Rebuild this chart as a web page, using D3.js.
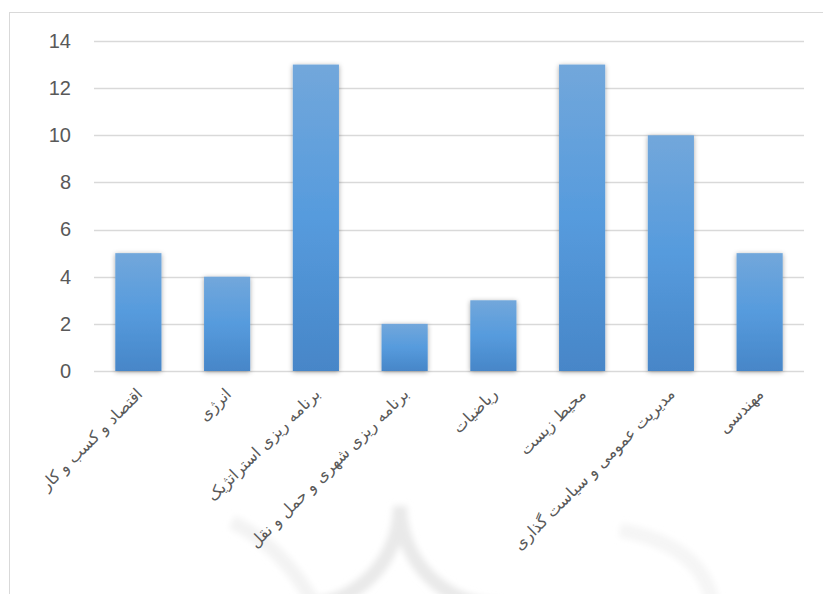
<!DOCTYPE html>
<html>
<head>
<meta charset="utf-8">
<script src="https://cdn.jsdelivr.net/npm/d3@7"></script>
<style>
  html, body { margin: 0; padding: 0; background: #fff; }
  svg { display: block; }
</style>
</head>
<body>
<svg id="chart" width="823" height="594"></svg>
<script>
// data
const categories = [
  "اقتصاد و کسب و کار",
  "انرژی",
  "برنامه ریزی استراتژیک",
  "برنامه ریزی شهری و حمل و نقل",
  "ریاضیات",
  "محیط زیست",
  "مدیریت عمومی و سیاست گذاری",
  "مهندسی"
];
const values = [5, 4, 13, 2, 3, 13, 10, 5];
const yTicks = [0, 2, 4, 6, 8, 10, 12, 14];

const margin = { left: 94, right: 19, top: 41, bottom: 223 };
const width = 823, height = 594;
const plotW = width - margin.left - margin.right;
const plotH = height - margin.top - margin.bottom;

const svg = d3.select("#chart");
const defs = svg.append("defs");

const grad = defs.append("linearGradient")
  .attr("id", "barGrad")
  .attr("x1", 0).attr("y1", 0).attr("x2", 0).attr("y2", 1);
grad.append("stop").attr("offset", "0%").attr("stop-color", "#72a7db");
grad.append("stop").attr("offset", "50%").attr("stop-color", "#569bdd");
grad.append("stop").attr("offset", "100%").attr("stop-color", "#4786c8");

const shadow = defs.append("filter")
  .attr("id", "shadow")
  .attr("x", "-30%").attr("y", "-10%").attr("width", "160%").attr("height", "125%");
shadow.append("feDropShadow")
  .attr("dx", 0).attr("dy", 1)
  .attr("stdDeviation", 2.5)
  .attr("flood-color", "#000")
  .attr("flood-opacity", 0.35);

const soft = defs.append("filter").attr("id", "soft");
soft.append("feGaussianBlur").attr("stdDeviation", 3);

// faint watermark at the bottom (two arcs meeting in a cusp)
const wm = svg.append("g")
  .attr("fill", "none")
  .attr("stroke", "#e9e9e9")
  .attr("stroke-width", 14)
  .attr("filter", "url(#soft)");
wm.append("path").attr("d", "M400,506 A100,100 0 0,1 300,606");
wm.append("path").attr("d", "M400,506 A100,100 0 0,0 500,606");
wm.append("path").attr("d", "M232,522 Q280,545 312,600").attr("stroke", "#f3f3f3");
wm.append("path").attr("d", "M620,530 Q700,545 712,600").attr("stroke", "#f5f5f5");

// outer chart border
svg.append("rect")
  .attr("x", 9.5).attr("y", 12.5)
  .attr("width", 830).attr("height", 600)
  .attr("fill", "none")
  .attr("stroke", "#d9d9d9")
  .attr("stroke-width", 1);

const g = svg.append("g")
  .attr("transform", "translate(" + margin.left + "," + margin.top + ")");

const x = d3.scaleBand()
  .domain(categories)
  .range([0, plotW])
  .paddingInner(0.48)
  .paddingOuter(0.24);

const y = d3.scaleLinear()
  .domain([0, 14])
  .range([plotH, 0]);

// gridlines
g.append("g")
  .selectAll("line")
  .data(yTicks)
  .enter()
  .append("line")
  .attr("x1", 0)
  .attr("x2", plotW)
  .attr("y1", function(d) { return Math.round(y(d)) + 0.5; })
  .attr("y2", function(d) { return Math.round(y(d)) + 0.5; })
  .attr("stroke", "#d9d9d9")
  .attr("stroke-width", 1.6);

// y axis labels
const yAxis = d3.axisLeft(y).tickValues(yTicks).tickSize(0).tickPadding(23);
const gy = g.append("g").call(yAxis);
gy.select(".domain").remove();
gy.selectAll("text")
  .attr("fill", "#595959")
  .style("font-family", "'Liberation Sans', Arial, sans-serif")
  .style("font-size", "20px");

// bars
g.append("g")
  .selectAll("rect")
  .data(values)
  .enter()
  .append("rect")
  .attr("x", function(d, i) { return x(categories[i]); })
  .attr("y", function(d) { return y(d); })
  .attr("width", x.bandwidth())
  .attr("height", function(d) { return y(0) - y(d); })
  .attr("fill", "url(#barGrad)")
  .attr("filter", "url(#shadow)");

// category labels, rotated
g.append("g")
  .selectAll("text")
  .data(categories)
  .enter()
  .append("text")
  .attr("transform", function(d) {
    return "translate(" + (x(d) + x.bandwidth() / 2 - 4) + "," + (plotH + 15) + ") rotate(-45)";
  })
  .attr("text-anchor", "end")
  .attr("dy", "0.8em")
  .attr("fill", "#595959")
  .style("font-family", "'DejaVu Sans', sans-serif")
  .style("font-size", "16px")
  .text(function(d) { return d; });
</script>
</body>
</html>
